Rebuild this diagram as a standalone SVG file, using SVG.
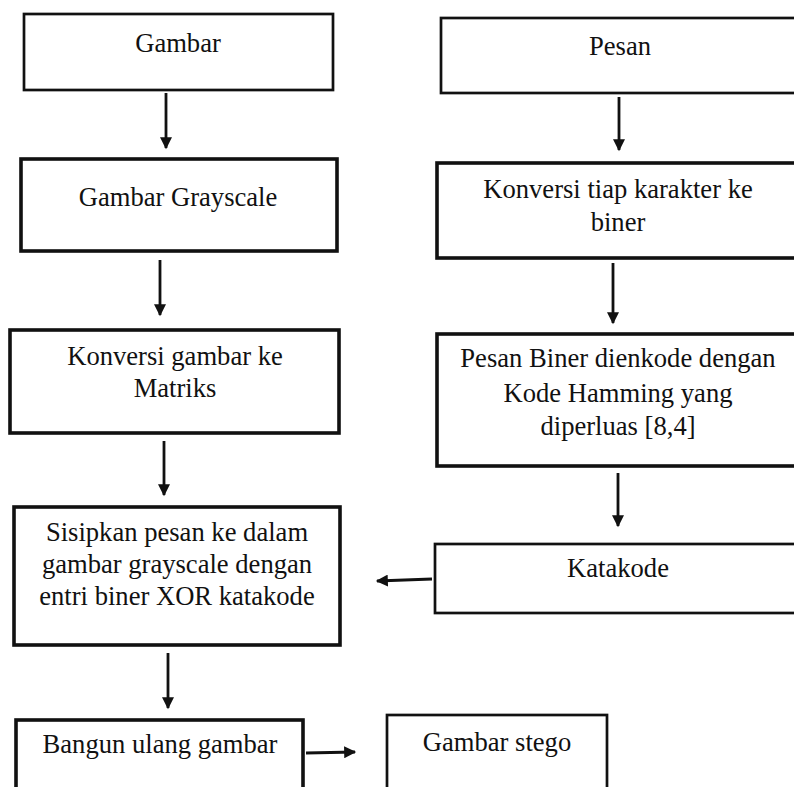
<svg xmlns="http://www.w3.org/2000/svg" width="794" height="787" viewBox="0 0 794 787">
<defs>
<style>
.box{fill:#fff;stroke:#111;stroke-width:2.7}
.thick{stroke-width:3.6}
.t{font-family:'Liberation Serif','Times New Roman',Times,serif;font-size:26.6px;fill:#111;text-anchor:middle}
.c{stroke:#111;stroke-width:2.8;fill:none;marker-end:url(#ah)}
</style>
<marker id="ah" viewBox="0 0 10 10" refX="9" refY="5" markerWidth="4.6" markerHeight="4.3" orient="auto" markerUnits="strokeWidth">
<path d="M0,0 L10,5 L0,10 z" fill="#111"/>
</marker>
</defs>
<rect width="794" height="787" fill="#fff"/>
<g id="n-gambar"><rect class="box" x="24" y="14" width="309" height="76"/><text class="t" x="178" y="52">Gambar</text></g>
<g id="n-grayscale"><rect class="box thick" x="21" y="159" width="316" height="92"/><text class="t" x="178" y="206">Gambar Grayscale</text></g>
<g id="n-matriks"><rect class="box thick" x="10" y="330" width="329" height="103"/><text class="t" x="175" y="365">Konversi gambar ke</text><text class="t" x="175" y="397">Matriks</text></g>
<g id="n-sisipkan"><rect class="box thick" x="14" y="507" width="326" height="138"/><text class="t" x="177" y="541">Sisipkan pesan ke dalam</text><text class="t" x="177" y="573">gambar grayscale dengan</text><text class="t" x="177" y="605">entri biner XOR katakode</text></g>
<g id="n-bangun"><rect class="box thick" x="16" y="720" width="287" height="80"/><text class="t" x="160" y="753">Bangun ulang gambar</text></g>
<g id="n-stego"><rect class="box" x="387" y="715" width="220" height="90"/><text class="t" x="497" y="751">Gambar stego</text></g>
<g id="n-pesan"><rect class="box" x="441" y="18" width="370" height="75"/><text class="t" x="620" y="55">Pesan</text></g>
<g id="n-konversi"><rect class="box thick" x="437" y="163" width="374" height="95"/><text class="t" x="618" y="198">Konversi tiap karakter ke</text><text class="t" x="618" y="231">biner</text></g>
<g id="n-hamming"><rect class="box thick" x="437" y="334" width="374" height="132"/><text class="t" x="618" y="367">Pesan Biner dienkode dengan</text><text class="t" x="618" y="402">Kode Hamming yang</text><text class="t" x="618" y="435">diperluas [8,4]</text></g>
<g id="n-katakode"><rect class="box" x="435" y="544" width="376" height="69"/><text class="t" x="618" y="577">Katakode</text></g>
<g id="connectors">
<path class="c" d="M166,93 L166,148"/>
<path class="c" d="M160,260 L160,315"/>
<path class="c" d="M164,441 L164,495"/>
<path class="c" d="M168,653 L168,708"/>
<path class="c" d="M306,753 L355,752"/>
<path class="c" d="M619,97 L619,150"/>
<path class="c" d="M613,263 L613,323"/>
<path class="c" d="M618,473 L618,526"/>
<path class="c" d="M432,579 L377,581"/>
</g>
</svg>
